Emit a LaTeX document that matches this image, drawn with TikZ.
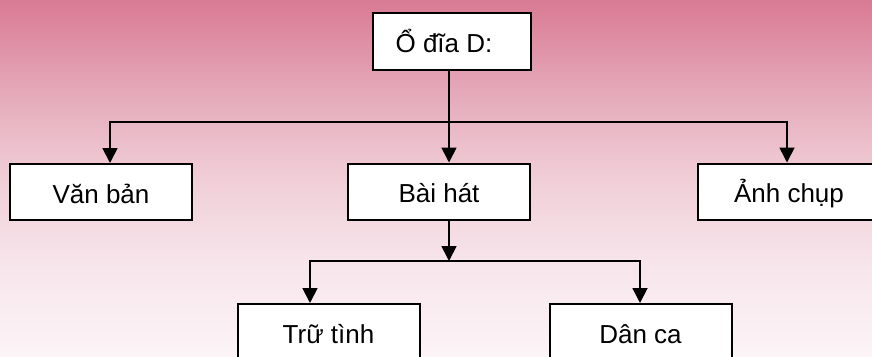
\documentclass[tikz,border=0pt]{standalone}
\usepackage{fontspec}
\setmainfont{Liberation Sans}
\usetikzlibrary{arrows.meta}
\definecolor{bgA}{RGB}{217,122,148}
\definecolor{bgB}{RGB}{228,168,184}
\definecolor{bgC}{RGB}{240,206,215}
\definecolor{bgD}{RGB}{247,230,236}
\definecolor{bgE}{RGB}{252,244,247}
\pgfdeclareverticalshading{bgshade}{100bp}{color(0bp)=(bgE); color(25bp)=(bgE); color(37.5bp)=(bgD); color(50bp)=(bgC); color(62.5bp)=(bgB); color(75bp)=(bgA); color(100bp)=(bgA)}
\begin{document}
\begin{tikzpicture}[x=1pt,y=-1pt,
  box/.style={draw=black, line width=2pt, fill=white, minimum width=182pt, minimum height=56pt,
    inner sep=0pt, font=\fontsize{26}{31}\selectfont, text height=22pt, text depth=0pt},
  conn/.style={line width=1.8pt, line join=miter},
  arr/.style={conn, -{Triangle[width=15pt,length=15pt]}}]
\path[use as bounding box] (0,0) rectangle (872,356);
\clip (0,0) rectangle (872,356);
\shade[shading=bgshade] (0,0) rectangle (872,356);

\node[box, minimum width=158pt, minimum height=57pt] (root) at (452,41.5) {Ổ đĩa D:\hspace*{16pt}};
\node[box] (vb) at (101,192) {Văn bản};
\node[box] (bh) at (439,191.5) {Bài hát};
\node[box] (ac) at (789,191.5) {Ảnh chụp};
\node[box, minimum height=57pt] (tt) at (328.5,332.5) {Trữ tình};
\node[box, minimum height=57pt] (dc) at (640.5,332.5) {Dân ca};

\coordinate (j1) at (449,122);
\coordinate (jL) at (110,122);
\coordinate (jR) at (787,122);
\coordinate (j2) at (449,261);
\coordinate (kL) at (310,261);
\coordinate (kR) at (640,261);

\draw[conn] (j1 |- root.south) -- (j1);
\draw[arr] (j1) -| (jL |- vb.north);
\draw[arr] (j1) -| (jR |- ac.north);
\draw[arr] (j1) -- (j1 |- bh.north);
\draw[arr] (j2 |- bh.south) -- (j2);
\draw[arr] (j2) -| (kL |- tt.north);
\draw[arr] (j2) -| (kR |- dc.north);
\end{tikzpicture}
\end{document}
